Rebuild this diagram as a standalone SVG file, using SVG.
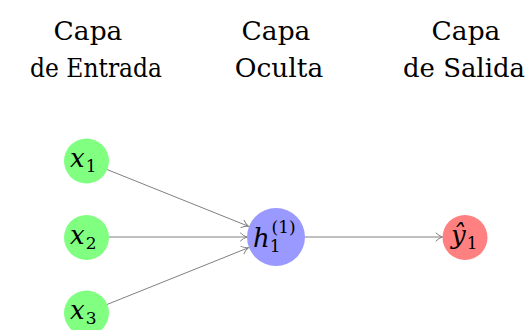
<svg xmlns="http://www.w3.org/2000/svg" width="529" height="330" viewBox="0 0 529 330">
  <style>
    .title { font-family: "DejaVu Serif", serif; font-size: 26.5px; fill: #000; text-anchor: middle; }
    .math { font-family: "DejaVu Serif", serif; font-size: 26px; fill: #000; }
    .mi { font-style: italic; }
    .sub { font-size: 17px; }
    .edge { stroke: #808080; stroke-width: 1; fill: none; marker-end: url(#arrow); }
    .in { fill: #80ff80; }
    .hid { fill: #9999ff; }
    .out { fill: #ff8080; }
  </style>
  <defs>
    <marker id="arrow" viewBox="0 0 8 10" refX="7.5" refY="5" markerWidth="8" markerHeight="10" markerUnits="userSpaceOnUse" orient="auto">
      <path d="M1,1 Q4,4 7.5,5 Q4,6 1,9" fill="none" stroke="#808080" stroke-width="1" stroke-linecap="round"/>
    </marker>
  </defs>

  <!-- layer titles -->
  <g id="titles">
    <text class="title" x="88" y="40">Capa</text>
    <text class="title" x="96" y="77" textLength="132" lengthAdjust="spacingAndGlyphs">de Entrada</text>
    <text class="title" x="276" y="40">Capa</text>
    <text class="title" x="279" y="77">Oculta</text>
    <text class="title" x="466" y="40">Capa</text>
    <text class="title" x="464" y="77" textLength="122" lengthAdjust="spacingAndGlyphs">de Salida</text>
  </g>

  <!-- connectors -->
  <g id="connectors">
    <line class="edge" x1="107" y1="169.5" x2="248.5" y2="226.3"/>
    <line class="edge" x1="108.5" y1="237" x2="247" y2="237"/>
    <line class="edge" x1="107" y1="304.5" x2="248.5" y2="247.7"/>
    <line class="edge" x1="305" y1="237" x2="442.5" y2="237"/>
  </g>

  <!-- input layer -->
  <g id="x1">
    <circle class="in" cx="86.5" cy="161" r="22.5"/>
    <text class="math" x="70" y="167"><tspan class="mi">x</tspan><tspan class="sub" dx="1" dy="5">1</tspan></text>
  </g>
  <g id="x2">
    <circle class="in" cx="86.5" cy="237.5" r="22.5"/>
    <text class="math" x="70" y="243.5"><tspan class="mi">x</tspan><tspan class="sub" dx="1" dy="5">2</tspan></text>
  </g>
  <g id="x3">
    <circle class="in" cx="86.5" cy="313" r="22.5"/>
    <text class="math" x="70" y="319"><tspan class="mi">x</tspan><tspan class="sub" dx="1" dy="5">3</tspan></text>
  </g>

  <!-- hidden layer -->
  <g id="h1">
    <circle class="hid" cx="276" cy="237" r="29"/>
    <text class="math" x="253" y="247"><tspan class="mi">h</tspan><tspan class="sub" dy="5">1</tspan><tspan class="sub" dx="-9" dy="-19">(1)</tspan></text>
  </g>

  <!-- output layer -->
  <g id="y1">
    <circle class="out" cx="465" cy="237.5" r="22.5"/>
    <text class="math" x="451" y="244"><tspan class="mi">ŷ</tspan><tspan class="sub" dx="1" dy="5">1</tspan></text>
  </g>
</svg>
